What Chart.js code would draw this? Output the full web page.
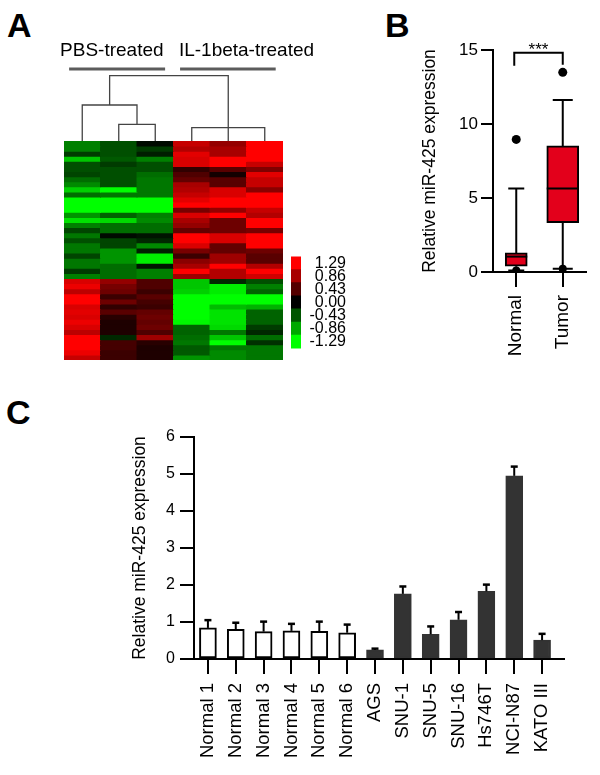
<!DOCTYPE html>
<html>
<head>
<meta charset="utf-8">
<script src="https://cdn.jsdelivr.net/npm/chart.js@4.4.0/dist/chart.umd.min.js"></script>
<style>
  body { margin: 0; background: #fff; }
  #page { position: relative; width: 600px; height: 775px; overflow: hidden; background: #fff; }
  canvas { position: absolute; }
  .panel { position: absolute; font: bold 34px 'Liberation Sans', Arial, sans-serif; line-height: 34px; color: #000; }
</style>
</head>
<body>
<div id="page">
  <div class="panel" style="left:7px; top:8px;">A</div>
  <div class="panel" style="left:385px; top:8px;">B</div>
  <div class="panel" style="left:6px; top:395px;">C</div>
  <canvas id="dendro" width="300" height="111" style="left:40px; top:30px; width:300px; height:111px;"></canvas>
  <canvas id="heat" width="219" height="219" style="left:64px; top:141px; width:219px; height:219px;"></canvas>
  <canvas id="scaleBar" width="55" height="115" style="left:291px; top:245px; width:55px; height:115px;"></canvas>
  <canvas id="boxB" width="220" height="380" style="left:380px; top:0px; width:220px; height:380px;"></canvas>
  <canvas id="barC" width="600" height="385" style="left:0px; top:390px; width:600px; height:385px;"></canvas>
</div>
<script>
// ---- panel A: heatmap (rows top to bottom, one array per sample column) ----
const sampleNames = ['PBS 1', 'PBS 2', 'PBS 3', 'IL-1beta 1', 'IL-1beta 2', 'IL-1beta 3'];
const heatPBS1 = [-0.65,-0.65,-0.3,-1.0,-0.4,-0.4,-0.35,-0.55,-0.7,-1.05,-0.55,-1.29,-1.29,-1.29,-0.75,-1.15,-0.65,-0.35,-0.6,-0.4,-0.6,-0.6,-0.35,-0.6,-0.6,-0.3,-0.65,
                  1.1,1.2,0.95,1.29,1.29,1.1,1.15,1.1,1.2,1.1,0.95,1.29,1.29,1.29,1.2,1.0];
const heatPBS2 = [-0.4,-0.4,-0.4,-0.45,-0.3,-0.4,-0.4,-0.4,-0.4,-1.29,-0.6,-1.29,-1.29,-1.29,-0.5,-1.1,-0.55,-0.55,-0.05,-0.35,-0.35,-0.75,-0.75,-0.75,-0.55,-0.55,-0.55,
                  0.75,0.6,0.55,0.3,0.55,0.25,0.45,0.2,0.15,0.15,0.15,-0.2,0.35,0.35,0.3,0.3];
const heatPBS3 = [-0.05,-0.3,-0.15,-0.65,-0.4,-0.4,-0.55,-0.6,-0.6,-0.6,-0.6,-1.29,-1.29,-1.29,-0.65,-0.7,-0.55,-0.55,-0.1,-0.2,-0.7,-0.15,-1.2,-1.2,-0.1,-0.65,-0.65,
                  0.4,0.4,0.3,0.45,0.35,0.3,0.5,0.55,0.5,0.55,0.4,0.8,0.2,0.15,0.15,0.15];
const heatIL1 = [1.0,0.9,1.15,1.1,1.1,0.25,0.4,0.5,0.85,0.9,1.0,1.15,1.29,0.6,1.1,0.85,0.75,0.5,1.29,1.29,1.1,0.6,0.3,0.7,0.85,1.29,0.8,
                 -1.0,-1.0,-1.05,-1.29,-1.29,-1.29,-1.29,-1.29,-1.25,-0.5,-0.5,-0.55,-0.6,-0.45,-0.45,-0.75];
const heatIL2 = [0.75,0.85,0.85,1.29,1.29,0.45,0.1,0.45,0.45,1.1,1.1,1.29,1.29,0.75,1.29,0.55,0.55,0.55,1.1,1.1,0.5,0.5,0.8,0.8,1.29,0.9,0.9,
                 -0.2,-1.2,-1.2,-1.29,-1.29,-0.95,-1.15,-1.15,-1.15,-1.1,-0.6,-1.0,-1.29,-0.6,-0.7,-0.7];
const heatIL3 = [1.29,1.29,1.29,1.29,1.0,0.65,1.15,1.0,1.0,0.7,1.29,1.29,1.29,1.0,0.9,1.29,1.29,0.6,1.29,1.29,1.29,0.55,0.45,0.45,0.9,1.29,1.05,
                 -0.4,-0.65,-0.5,-1.29,-1.29,-0.9,-0.5,-0.5,-0.5,-0.3,-0.2,-0.55,-0.25,-0.6,-0.6,-0.6];

// dendrogram: leaves 0-5, merge k creates node 6+k
const mergeLeft = [1, 0, 3, 4, 7];
const mergeRight = [2, 6, 5, 8, 9];
const mergeHeight = [16.7, 36, 13.3, 13.3, 65.3];
const groupNames = ['PBS-treated', 'IL-1beta-treated'];
const groupStart = [-0.36, 2.68];
const groupEnd = [2.27, 5.3];
const groupLabelCenter = [0.81, 4.5];

// colour key
const keyLabels = ['1.29', '0.86', '0.43', '0.00', '-0.43', '-0.86', '-1.29'];
const keyColors = ['#ff0000', '#a80000', '#540000', '#000000', '#005400', '#00a800', '#00ff00'];

// ---- panel B: box plot ----
const boxLabels = ['Normal', 'Tumor'];
const boxQ1 = [0.39, 3.34];
const boxQ3 = [1.29, 8.52];
const boxMedian = [1.04, 5.64];
const whiskerLow = [0.1, 0.22];
const whiskerHigh = [5.64, 11.62];
const outlierHigh = [8.96, 13.49];
const outlierLow = [0.1, 0.22];

// ---- panel C: bar chart ----
const cLabels = ['Normal 1', 'Normal 2', 'Normal 3', 'Normal 4', 'Normal 5', 'Normal 6', 'AGS', 'SNU-1', 'SNU-5', 'SNU-16', 'Hs746T', 'NCI-N87', 'KATO III'];
const cMeans = [0.84, 0.80, 0.74, 0.76, 0.75, 0.71, 0.245, 1.76, 0.67, 1.06, 1.83, 4.95, 0.51];
const cErrors = [0.21, 0.18, 0.27, 0.19, 0.26, 0.22, 0.035, 0.2, 0.21, 0.21, 0.18, 0.25, 0.17];

Chart.defaults.font.family = "'Liberation Sans', Arial, sans-serif";
Chart.defaults.color = '#000';
Chart.defaults.animation = false;
Chart.defaults.plugins.legend.display = false;
Chart.defaults.plugins.tooltip.enabled = false;

function heatColor(v) {
    const t = Math.min(Math.abs(v) / 1.29, 1);
    const c = Math.round(255 * t);
    return v >= 0 ? `rgb(${c},0,0)` : `rgb(0,${c},0)`;
}

// heatmap
const heatColumns = [heatPBS1, heatPBS2, heatPBS3, heatIL1, heatIL2, heatIL3];
new Chart(document.getElementById('heat'), {
    type: 'bar',
    data: {
        labels: sampleNames,
        datasets: heatPBS1.map((_, r) => ({
            data: heatColumns.map(() => 1),
            backgroundColor: heatColumns.map(col => heatColor(col[r])),
            barPercentage: 1,
            categoryPercentage: 1,
            borderWidth: 0,
            inflateAmount: 0.5,
        })),
    },
    options: {
        responsive: false,
        devicePixelRatio: 1,
        layout: { padding: 0 },
        scales: {
            x: { display: false, stacked: true },
            y: { display: false, stacked: true, reverse: true, min: 0, max: heatPBS1.length },
        },
    },
});

// dendrogram + group labels
const nodeX = [0, 1, 2, 3, 4, 5];
const nodeH = [0, 0, 0, 0, 0, 0];
const dendroSets = [];
mergeLeft.forEach((l, k) => {
    const r = mergeRight[k], h = mergeHeight[k];
    dendroSets.push({
        data: [{x: nodeX[l], y: nodeH[l]}, {x: nodeX[l], y: h}, {x: nodeX[r], y: h}, {x: nodeX[r], y: nodeH[r]}],
        showLine: true, pointRadius: 0, borderColor: '#444', borderWidth: 1.3, tension: 0,
    });
    nodeX.push((nodeX[l] + nodeX[r]) / 2);
    nodeH.push(h);
});
groupNames.forEach((_, i) => {
    dendroSets.push({
        data: [{x: groupStart[i], y: 72}, {x: groupEnd[i], y: 72}],
        showLine: true, pointRadius: 0, borderColor: '#5c5c5c', borderWidth: 3,
    });
});
new Chart(document.getElementById('dendro'), {
    type: 'scatter',
    data: { datasets: dendroSets },
    options: {
        responsive: false,
        devicePixelRatio: 1,
        layout: { padding: { left: 24, right: 57, top: 0, bottom: 0 } },
        scales: {
            x: { type: 'linear', display: false, min: -0.5, max: 5.5 },
            y: { type: 'linear', display: false, min: 0, max: 111 },
        },
    },
    plugins: [{
        id: 'groupText',
        afterDraw(chart) {
            const {ctx, scales: {x, y}} = chart;
            ctx.save();
            ctx.font = "19px 'Liberation Sans', Arial, sans-serif";
            ctx.fillStyle = '#000';
            ctx.textAlign = 'center';
            ctx.textBaseline = 'middle';
            groupNames.forEach((name, i) => {
                ctx.fillText(name, x.getPixelForValue(groupLabelCenter[i]), y.getPixelForValue(90));
            });
            ctx.restore();
        },
    }],
});

// colour key
new Chart(document.getElementById('scaleBar'), {
    type: 'bar',
    data: {
        labels: keyLabels,
        datasets: [{
            data: keyLabels.map(() => 1),
            backgroundColor: keyColors,
            barPercentage: 1,
            categoryPercentage: 1,
            borderWidth: 0,
            inflateAmount: 0.5,
        }],
    },
    options: {
        indexAxis: 'y',
        responsive: false,
        devicePixelRatio: 1,
        layout: { padding: 0 },
        scales: {
            x: { display: false, min: 0, max: 1 },
            y: {
                position: 'right',
                grid: { display: false, drawTicks: false },
                border: { display: false },
                ticks: { font: { size: 16 }, crossAlign: 'far', padding: 2, color: '#000', autoSkip: false },
                afterFit: s => { s.width = 45; },
            },
        },
    },
});

// panel B
new Chart(document.getElementById('boxB'), {
    type: 'bar',
    data: {
        labels: boxLabels,
        datasets: [
            ...boxLabels.map((_, i) => ({
                type: 'bar',
                data: boxLabels.map((_, j) => (j === i ? [boxQ1[i], boxQ3[i]] : null)),
                backgroundColor: '#e3001b',
                borderColor: '#000',
                borderWidth: 2,
                borderSkipped: false,
                barThickness: [22, 32][i],
                grouped: false,
            })),
            { type: 'line', data: outlierHigh, showLine: false, pointRadius: 4.5, pointBackgroundColor: '#000', pointBorderWidth: 0 },
            { type: 'line', data: outlierLow, showLine: false, pointRadius: 4, pointBackgroundColor: '#000', pointBorderWidth: 0 },
        ],
    },
    options: {
        responsive: false,
        devicePixelRatio: 1,
        layout: { padding: { top: 50, right: 14, left: 0, bottom: 0 } },
        scales: {
            x: {
                grid: { offset: false, drawOnChartArea: false, tickLength: 15, color: '#000', lineWidth: 2 },
                border: { color: '#000', width: 2 },
                ticks: { color: '#000', font: { size: 19 }, minRotation: 90, maxRotation: 90, padding: 8 },
                afterFit: s => { s.height = 108; },
            },
            y: {
                min: 0, max: 15,
                ticks: { stepSize: 5, color: '#000', font: { size: 17 }, padding: 3 },
                grid: { drawOnChartArea: false, tickLength: 12, color: '#000', lineWidth: 2 },
                border: { color: '#000', width: 2 },
                title: { display: true, text: 'Relative miR-425 expression', color: '#000', font: { size: 17.5 }, padding: { top: 40, bottom: 0 } },
                afterFit: s => { s.width = 113; },
            },
        },
    },
    plugins: [{
        id: 'boxParts',
        beforeDatasetsDraw(chart) {
            const {ctx, scales: {x, y}} = chart;
            ctx.save();
            ctx.strokeStyle = '#000';
            ctx.lineWidth = 2;
            boxLabels.forEach((_, i) => {
                const cx = x.getPixelForValue(i);
                const capHalf = [8, 10][i];
                ctx.beginPath();
                ctx.moveTo(cx, y.getPixelForValue(boxQ3[i]));
                ctx.lineTo(cx, y.getPixelForValue(whiskerHigh[i]));
                ctx.moveTo(cx - capHalf, y.getPixelForValue(whiskerHigh[i]));
                ctx.lineTo(cx + capHalf, y.getPixelForValue(whiskerHigh[i]));
                ctx.moveTo(cx, y.getPixelForValue(boxQ1[i]));
                ctx.lineTo(cx, y.getPixelForValue(whiskerLow[i]));
                ctx.moveTo(cx - capHalf, y.getPixelForValue(whiskerLow[i]));
                ctx.lineTo(cx + capHalf, y.getPixelForValue(whiskerLow[i]));
                ctx.stroke();
            });
            ctx.restore();
        },
        afterDatasetsDraw(chart) {
            const {ctx, scales: {x, y}} = chart;
            ctx.save();
            ctx.strokeStyle = '#000';
            ctx.lineWidth = 2;
            boxLabels.forEach((_, i) => {
                const cx = x.getPixelForValue(i);
                const half = [22, 32][i] / 2;
                const my = y.getPixelForValue(boxMedian[i]);
                ctx.beginPath();
                ctx.moveTo(cx - half, my);
                ctx.lineTo(cx + half, my);
                ctx.stroke();
            });
            // significance bracket
            const x0 = x.getPixelForValue(0) - 2, x1 = x.getPixelForValue(1);
            ctx.beginPath();
            ctx.moveTo(x0, y.getPixelForValue(13.94));
            ctx.lineTo(x0, y.getPixelForValue(14.82));
            ctx.lineTo(x1, y.getPixelForValue(14.82));
            ctx.lineTo(x1, y.getPixelForValue(14.0));
            ctx.stroke();
            ctx.font = "17px 'Liberation Sans', Arial, sans-serif";
            ctx.fillStyle = '#000';
            ctx.textAlign = 'center';
            ctx.textBaseline = 'alphabetic';
            ctx.fillText('***', (x0 + x1) / 2, y.getPixelForValue(14.66));
            ctx.restore();
        },
    }],
});

// panel C
const cIsNormal = cLabels.map(l => l.startsWith('Normal'));
new Chart(document.getElementById('barC'), {
    type: 'bar',
    data: {
        labels: cLabels,
        datasets: [{
            data: cMeans,
            backgroundColor: cIsNormal.map(n => (n ? '#ffffff' : '#333333')),
            borderColor: cIsNormal.map(n => (n ? '#000000' : '#333333')),
            borderWidth: 2,
            borderSkipped: false,
            barThickness: 17,
        }],
    },
    options: {
        responsive: false,
        devicePixelRatio: 1,
        layout: { padding: { top: 47, right: 44, left: 0, bottom: 0 } },
        scales: {
            x: {
                grid: { offset: false, drawOnChartArea: false, tickLength: 15, color: '#000', lineWidth: 2 },
                border: { color: '#000', width: 2 },
                ticks: { color: '#000', font: { size: 18.5 }, minRotation: 90, maxRotation: 90, padding: 9, autoSkip: false },
                afterFit: s => { s.height = 116; },
            },
            y: {
                min: 0, max: 6,
                ticks: { stepSize: 1, color: '#000', font: { size: 16 }, padding: 5 },
                grid: { drawOnChartArea: false, tickLength: 14, color: '#000', lineWidth: 2 },
                border: { color: '#000', width: 2 },
                title: { display: true, text: 'Relative miR-425 expression', color: '#000', font: { size: 17.5 }, padding: { top: 130, bottom: 0 } },
                afterFit: s => { s.width = 194; },
            },
        },
    },
    plugins: [{
        id: 'errorBars',
        afterDatasetsDraw(chart) {
            const {ctx, chartArea, scales: {x, y}} = chart;
            ctx.save();
            ctx.strokeStyle = '#000';
            cMeans.forEach((m, i) => {
                const cx = x.getPixelForValue(i);
                const yTop = y.getPixelForValue(m + cErrors[i]);
                ctx.lineWidth = 2;
                ctx.beginPath();
                ctx.moveTo(cx, y.getPixelForValue(m));
                ctx.lineTo(cx, yTop);
                ctx.stroke();
                ctx.lineWidth = 2.5;
                ctx.beginPath();
                ctx.moveTo(cx - 3.5, yTop);
                ctx.lineTo(cx + 3.5, yTop);
                ctx.stroke();
            });
            // axis line runs a little past the last category
            ctx.lineWidth = 2;
            ctx.beginPath();
            ctx.moveTo(chartArea.right, chartArea.bottom);
            ctx.lineTo(chartArea.right + 9, chartArea.bottom);
            ctx.stroke();
            ctx.restore();
        },
    }],
});
</script>
</body>
</html>
